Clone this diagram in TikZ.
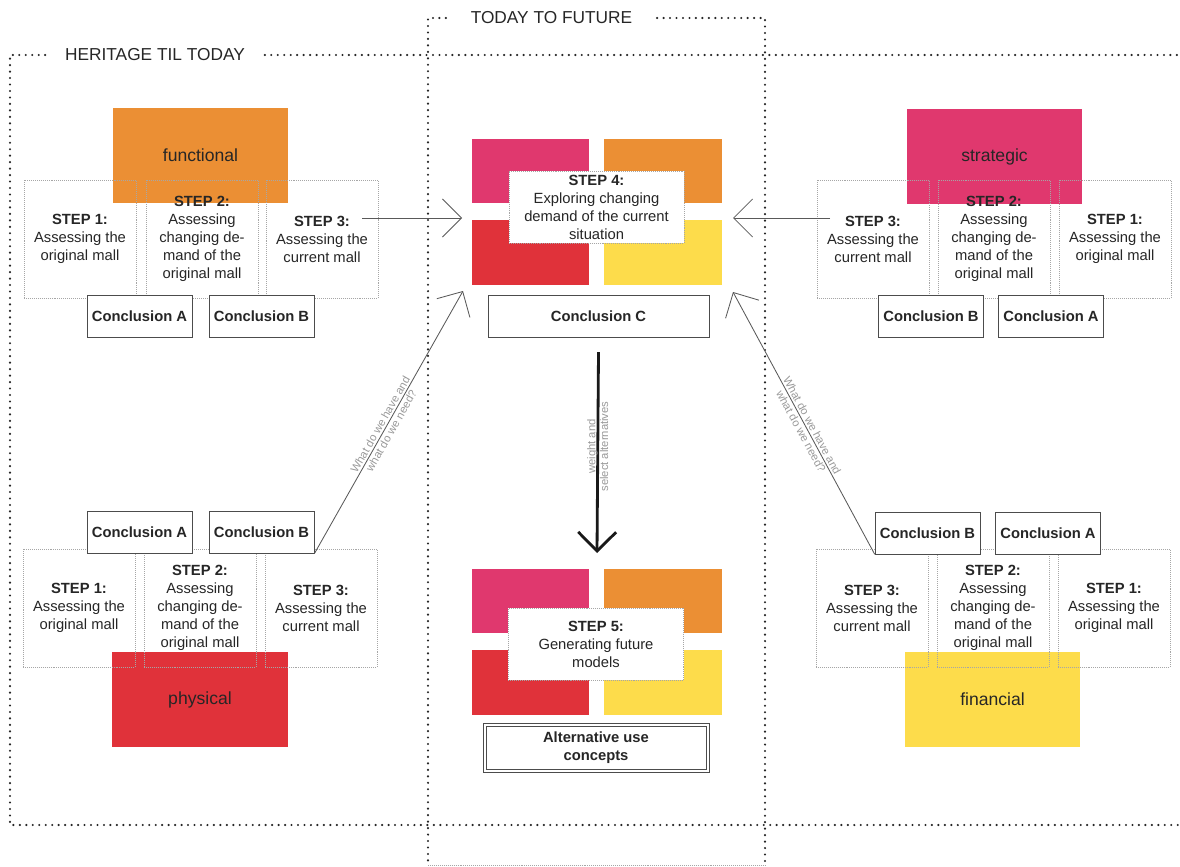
\documentclass[tikz,border=0pt]{standalone}
\usepackage{fontspec}
\setmainfont{Liberation Sans}
\usepackage{xcolor}
\usetikzlibrary{arrows.meta}
\definecolor{mpink}{RGB}{224,56,110}
\definecolor{morange}{RGB}{235,143,52}
\definecolor{mred}{RGB}{224,50,58}
\definecolor{myellow}{RGB}{253,220,75}

\begin{document}
\begin{tikzpicture}[x=0.025cm,y=-0.025cm,
  font=\fontsize{10.5}{12.8}\selectfont,text=black!85,
  frame/.style={line width=1.7pt,dash pattern=on 0pt off 4.6pt,line cap=round,draw=black!85},
  head/.style={font=\fontsize{12.3}{14}\selectfont},
  stepbox/.style={draw=black!35,densely dotted,minimum width=2.8cm,minimum height=2.95cm,align=center,inner sep=0pt},
  concl/.style={draw=black!70,fill=white,minimum width=2.625cm,minimum height=1.05cm,inner sep=0pt,font=\fontsize{10.5}{12.8}\selectfont\bfseries},
  tile/.style={minimum width=4.375cm,minimum height=2.375cm,inner sep=0pt,font=\fontsize{12.5}{15}\selectfont},
  quad/.style={minimum width=2.925cm,minimum height=1.6cm,inner sep=0pt},
  focus/.style={draw=black!35,densely dotted,fill=white,minimum width=4.375cm,minimum height=1.8cm,align=center,inner sep=0pt},
  link/.style={draw=black!65,line width=0.6pt,-{Straight Barb[length=13.5pt,width=27pt]}},
  note/.style={font=\fontsize{8}{9}\selectfont,text=black!40,align=center,inner sep=1pt}]
\useasboundingbox (0,0) rectangle (1180,867);

% frames
\node[head,inner xsep=14pt] (heri) at (155,55) {HERITAGE TIL TODAY};
\node[head,inner xsep=17.5pt] (tofu) at (551.5,18) {TODAY TO FUTURE};
\draw[frame] (heri.west) -- (10,55) -- (10,825) -- (1180,825);
\draw[frame] (heri.east) -- (1180,55);
\draw[frame] (tofu.west) -- (428,18) -- (428,865);
\draw[frame] (tofu.east) -- (765,18) -- (765,865);
\draw[black!35,densely dotted] (428,865) -- (765,865);

% aspect tiles
\node[tile,fill=morange] (fun) at (200.5,155.5) {functional};
\node[tile,fill=mpink] (str) at (994.5,156.5) {strategic};
\node[tile,fill=mred] (phy) at (200,699.5) {physical};
\node[tile,fill=myellow] (fin) at (992.5,699.5) {financial};

% top left
\node[stepbox] (tl1) at (80,239) {\textbf{STEP 1:}\\Assessing the\\original mall};
\node[stepbox] (tl2) at (202,239) {\textbf{STEP 2:}\\Assessing\\changing de-\\mand of the\\original mall};
\node[stepbox] (tl3) at (322,239) {\textbf{STEP 3:}\\Assessing the\\current mall};
\node[concl] (tlA) at (139.5,316) {Conclusion A};
\node[concl] (tlB) at (261.5,316) {Conclusion B};

% top right
\node[stepbox] (tr3) at (873,239) {\textbf{STEP 3:}\\Assessing the\\current mall};
\node[stepbox] (tr2) at (994,239) {\textbf{STEP 2:}\\Assessing\\changing de-\\mand of the\\original mall};
\node[stepbox] (tr1) at (1115,239) {\textbf{STEP 1:}\\Assessing the\\original mall};
\node[concl] (trB) at (931,316) {Conclusion B};
\node[concl] (trA) at (1051,316) {Conclusion A};

% bottom left
\node[stepbox] (bl1) at (79,608) {\textbf{STEP 1:}\\Assessing the\\original mall};
\node[stepbox] (bl2) at (200,608) {\textbf{STEP 2:}\\Assessing\\changing de-\\mand of the\\original mall};
\node[stepbox] (bl3) at (321,608) {\textbf{STEP 3:}\\Assessing the\\current mall};
\node[concl] (blA) at (139.5,532.5) {Conclusion A};
\node[concl] (blB) at (261.5,532.5) {Conclusion B};

% bottom right
\node[stepbox] (br3) at (872,608) {\textbf{STEP 3:}\\Assessing the\\current mall};
\node[stepbox] (br2) at (993,608) {\textbf{STEP 2:}\\Assessing\\changing de-\\mand of the\\original mall};
\node[stepbox] (br1) at (1114,608) {\textbf{STEP 1:}\\Assessing the\\original mall};
\node[concl] (brB) at (927.5,533) {Conclusion B};
\node[concl] (brA) at (1048,533) {Conclusion A};

% centre, step 4
\node[quad,fill=mpink] (q4a) at (530.5,171) {};
\node[quad,fill=morange] (q4b) at (663,171) {};
\node[quad,fill=mred] (q4c) at (530.5,252.5) {};
\node[quad,fill=myellow] (q4d) at (663,252.5) {};
\node[focus] (s4) at (596.5,207) {\textbf{STEP 4:}\\Exploring changing\\demand of the current\\situation};
\node[concl,minimum width=5.525cm] (concC) at (598.5,316) {Conclusion C};

% centre, step 5
\node[quad,fill=mpink] (q5a) at (530.5,601) {};
\node[quad,fill=morange] (q5b) at (663,601) {};
\node[quad,fill=mred] (q5c) at (530.5,682.5) {};
\node[quad,fill=myellow] (q5d) at (663,682.5) {};
\node[focus] (s5) at (596,644) {\textbf{STEP 5:}\\Generating future\\models};
\node[concl,minimum width=5.65cm,minimum height=1.225cm,align=center] (alt) at (596,747.5) {Alternative use\\concepts};
\draw[black!70] ([shift={(2.2pt,-2.2pt)}]alt.north west) rectangle ([shift={(-2.2pt,2.2pt)}]alt.south east);

% connectors
\coordinate (tlout) at (362,218);
\coordinate (c4l) at (462,218);
\coordinate (trout) at (830,218);
\coordinate (c4r) at (733,218);
\coordinate (c4bl) at (463,291);
\coordinate (c4br) at (733,292);
\coordinate (c5t) at (597,553);
\draw[link] (tlout) -- (c4l);
\draw[link] (trout) -- (c4r);
\draw[link] (blB.south east) -- node[note,sloped,pos=0.48]{What do we have and\\what do we need?} (c4bl);
\draw[link] (brB.south west) -- node[note,sloped,pos=0.48]{What do we have and\\what do we need?} (c4br);
\draw[link,draw=black!90,line width=2pt] ([yshift=-10.6pt]concC.south) -- node[note,rotate=90,pos=0.47]{weight and\\select alternatives} (c5t);
\end{tikzpicture}
\end{document}
